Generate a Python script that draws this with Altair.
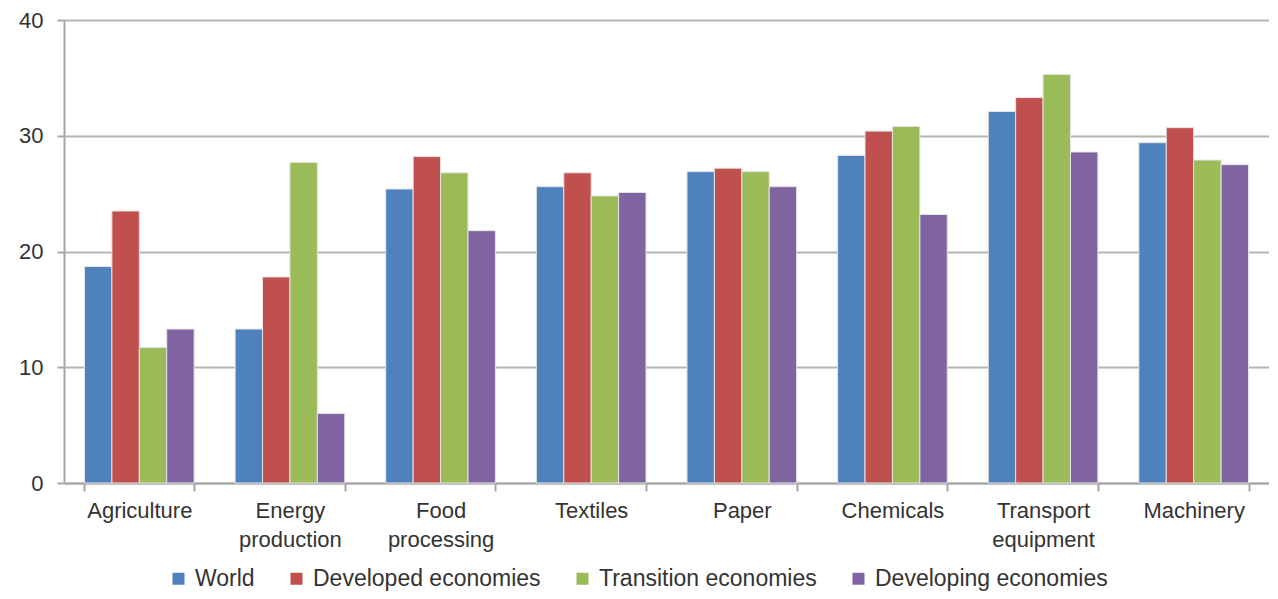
import altair as alt
import pandas as pd

categories = ["Agriculture", "Energy production", "Food processing", "Textiles",
              "Paper", "Chemicals", "Transport equipment", "Machinery"]
series_names = ["World", "Developed economies", "Transition economies", "Developing economies"]
colors = ["#4F81BD", "#C0504D", "#9BBB59", "#8064A2"]

world =      [18.7, 13.3, 25.4, 25.6, 26.9, 28.3, 32.1, 29.4]
developed =  [23.5, 17.8, 28.2, 26.8, 27.2, 30.4, 33.3, 30.7]
transition = [11.7, 27.7, 26.8, 24.8, 26.9, 30.8, 35.3, 27.9]
developing = [13.3, 6.0, 21.8, 25.1, 25.6, 23.2, 28.6, 27.5]

y_ticks = [0, 10, 20, 30, 40]

rows = []
for name, vals in zip(series_names, [world, developed, transition, developing]):
    for c, v in zip(categories, vals):
        rows.append({"category": c, "series": name, "value": v})
df = pd.DataFrame(rows)

FONT = "Liberation Sans"
TXT = "#333333"

chart = alt.Chart(df).mark_bar(stroke="#e4e4e4", strokeWidth=1).encode(
    x=alt.X("category:N", sort=categories, title=None,
            scale=alt.Scale(paddingInner=0.272, paddingOuter=0.136),
            axis=alt.Axis(labelAngle=0, labelExpr="split(datum.label, ' ')",
                          labelLineHeight=29, labelFontSize=22, labelFont=FONT,
                          labelColor=TXT, labelPadding=9, labelBaseline="top",
                          tickBand="extent", tickSize=8, tickColor="#a6a6a6",
                          tickWidth=2, domainColor="#a6a6a6", domainWidth=2,
                          grid=False)),
    xOffset=alt.XOffset("series:N", sort=series_names,
                        scale=alt.Scale(paddingInner=0, paddingOuter=0)),
    y=alt.Y("value:Q", title=None,
            scale=alt.Scale(domain=[0, 40], nice=False),
            axis=alt.Axis(values=y_ticks, labelFontSize=22, labelFont=FONT,
                          labelColor=TXT, labelPadding=14, tickSize=7,
                          tickColor="#a6a6a6", tickWidth=2,
                          domainColor="#a6a6a6", domainWidth=2,
                          gridColor="#b5b5b5", gridWidth=2)),
    color=alt.Color("series:N", sort=series_names, title=None,
                    scale=alt.Scale(domain=series_names, range=colors),
                    legend=alt.Legend(orient="none", direction="horizontal",
                                      columns=4, legendX=103, legendY=547,
                                      symbolType="square", symbolSize=144,
                                      symbolStrokeWidth=0, labelFontSize=23,
                                      labelFont=FONT, labelColor=TXT,
                                      labelLimit=400,
                                      labelOffset=5, columnPadding=30)),
).properties(
    width=1205, height=463,
    autosize=alt.AutoSizeParams(type="none"),
    padding={"left": 56, "top": 12, "right": 0, "bottom": 108},
).configure_view(stroke=None)

chart.save("out.html", embed_options={"renderer": "svg", "actions": False})
